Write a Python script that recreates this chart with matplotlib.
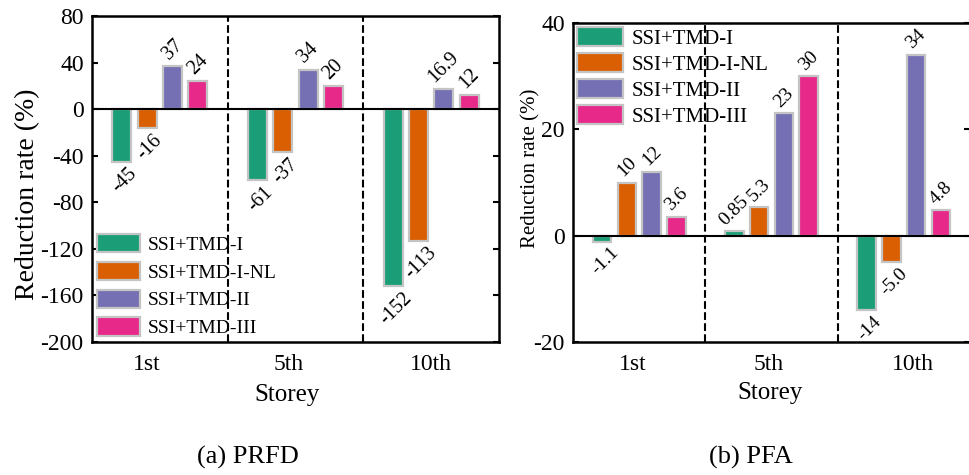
import matplotlib
matplotlib.use("Agg")
import matplotlib.pyplot as plt
import numpy as np

plt.rcParams['font.family'] = ['Liberation Serif', 'DejaVu Serif']
plt.rcParams['mathtext.fontset'] = 'stix'

storeys = ['1st', '5th', '10th']
series = ['SSI+TMD-I', 'SSI+TMD-I-NL', 'SSI+TMD-II', 'SSI+TMD-III']
colors = ['#1b9e77', '#d95f02', '#7570b3', '#e7298a']

# (a) PRFD
prfd_vals = [
    [-45, -61, -152],
    [-16, -37, -113],
    [37, 34, 16.9],
    [24, 20, 12],
]
prfd_text = [
    ['-45', '-61', '-152'],
    ['-16', '-37', '-113'],
    ['37', '34', '16.9'],
    ['24', '20', '12'],
]
prfd_yticks = [-200, -160, -120, -80, -40, 0, 40, 80]

# (b) PFA
pfa_vals = [
    [-1.1, 0.85, -14],
    [10, 5.3, -5.0],
    [12, 23, 34],
    [3.6, 30, 4.8],
]
pfa_text = [
    ['-1.1', '0.85', '-14'],
    ['10', '5.3', '-5.0'],
    ['12', '23', '34'],
    ['3.6', '30', '4.8'],
]
pfa_yticks = [-20, 0, 20, 40]

W, H = 969, 475
fig = plt.figure(figsize=(W / 100, H / 100), dpi=100)


def box(x0, x1, ytop, ybot):
    return [x0 / W, 1 - ybot / H, (x1 - x0) / W, (ybot - ytop) / H]


axL = fig.add_axes(box(92, 499, 16, 342))
axR = fig.add_axes(box(573, 970, 23, 342))

step = 0.187
bw = 0.14
edge = '#c4c4c4'


def draw(ax, vals, texts, yticks, ylim, xtickpos, annfs):
    x = np.arange(len(storeys))
    for i, (v, t) in enumerate(zip(vals, texts)):
        pos = x + (i - 1.5) * step
        bars = ax.bar(pos, v, bw, color=colors[i], edgecolor=edge,
                      linewidth=1.6, label=series[i], zorder=3)
        for b, val, s in zip(bars, v, t):
            cx = b.get_x() + b.get_width() / 2
            if val >= 0:
                ax.annotate(s, (cx, val), xytext=(0, 2), textcoords='offset points',
                            ha='center', va='bottom', rotation=45, fontsize=annfs)
            else:
                ax.annotate(s, (cx, val), xytext=(2, -2), textcoords='offset points',
                            ha='center', va='top', rotation=45, fontsize=annfs)
    ax.axhline(0, color='k', lw=1.5, zorder=4)
    for xv in (0.5, 1.5):
        ax.axvline(xv, color='k', ls='--', lw=1.5, zorder=2)
    ax.set_xlim(-0.5, 2.5)
    ax.set_ylim(*ylim)
    ax.set_yticks(yticks)
    ax.set_yticklabels([str(v) for v in yticks])
    ax.set_xticks(xtickpos)
    ax.set_xticklabels(storeys)
    ax.tick_params(axis='y', direction='in', right=True, length=4, width=1.5,
                   labelsize=17, pad=6)
    ax.tick_params(axis='x', length=0, labelsize=17, pad=9)
    for sp in ax.spines.values():
        sp.set_linewidth(1.8)


draw(axL, prfd_vals, prfd_text, prfd_yticks, (-200, 80), [-0.1, 0.95, 2.0], 14.5)
draw(axR, pfa_vals, pfa_text, pfa_yticks, (-20, 40), [-0.05, 0.98, 2.07], 14)

axL.set_xlabel('Storey', fontsize=18)
axL.xaxis.set_label_coords(0.479, -0.13)
axR.set_xlabel('Storey', fontsize=18)
axR.xaxis.set_label_coords(0.497, -0.125)

axL.set_ylabel('Reduction rate (%)', fontsize=20)
axL.yaxis.set_label_coords((40 - 92) / 407, (342 - 194) / 326)
axR.set_ylabel('Reduction rate (%)', fontsize=15)
axR.yaxis.set_label_coords((540 - 573) / 397, (342 - 168) / 319)

legL = axL.legend(loc='lower left', bbox_to_anchor=(0, 0), frameon=False,
                  fontsize=14, handlelength=2.2, handleheight=1.05,
                  handletextpad=0.4, labelspacing=0.42, borderpad=0.25,
                  borderaxespad=0.0)
legR = axR.legend(loc='upper left', bbox_to_anchor=(0, 1), frameon=False,
                  fontsize=15, handlelength=2.2, handleheight=1.0,
                  handletextpad=0.4, labelspacing=0.22, borderpad=0.2,
                  borderaxespad=0.0)

fig.text(248 / W, 1 - 457 / H, '(a) PRFD', ha='center', va='center', fontsize=19)
fig.text(751 / W, 1 - 457 / H, '(b) PFA', ha='center', va='center', fontsize=19)

fig.savefig('out.png', dpi=100)
